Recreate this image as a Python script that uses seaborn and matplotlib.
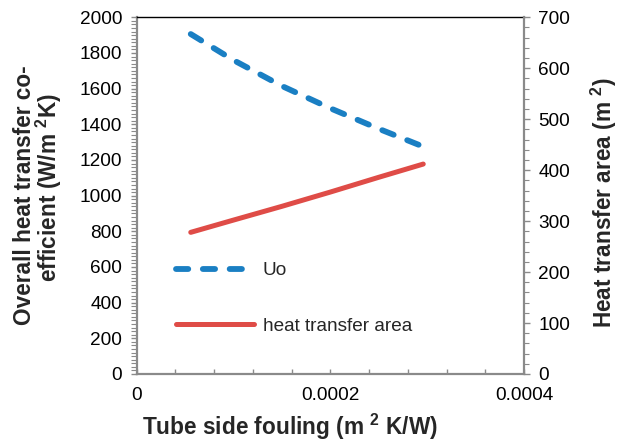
import matplotlib
matplotlib.use("Agg")
import matplotlib.pyplot as plt
import numpy as np
import pandas as pd
import seaborn as sns
from matplotlib.ticker import MultipleLocator

# ---- data ----
fouling = [0.000056, 0.0001, 0.00015, 0.0002, 0.00025, 0.000296]
uo = [1906, 1760, 1615, 1490, 1375, 1275]
area = [278, 302, 329, 357, 386, 412]

x_ticks = [0, 0.0002, 0.0004]
x_tick_labels = ["0", "0.0002", "0.0004"]
left_ticks = [0, 200, 400, 600, 800, 1000, 1200, 1400, 1600, 1800, 2000]
right_ticks = [0, 100, 200, 300, 400, 500, 600, 700]

series_labels = ["Uo", "heat transfer area"]

BLUE = "#1a7fc3"
RED = "#df4c47"
GRAY = "#8a8a8a"

sns.set_theme(style="white")
plt.rcParams["font.family"] = ["Liberation Sans", "DejaVu Sans"]
plt.rcParams["mathtext.fontset"] = "custom"
plt.rcParams["mathtext.rm"] = "Liberation Sans"
plt.rcParams["mathtext.bf"] = "Liberation Sans:bold"
plt.rcParams["mathtext.it"] = "Liberation Sans:italic"

W, H = 619, 443
fig = plt.figure(figsize=(W / 100, H / 100), dpi=100)
ax = fig.add_axes([136.5 / W, 69 / H, 387.5 / W, 356.7 / H])
ax2 = ax.twinx()

df = pd.DataFrame({"fouling": fouling, "uo": uo, "area": area})

sns.lineplot(data=df, x="fouling", y="uo", ax=ax, color=BLUE, linewidth=4.2,
             legend=False, sort=False)
sns.lineplot(data=df, x="fouling", y="area", ax=ax2, color=RED, linewidth=3.6,
             legend=False, sort=False)

l1 = ax.lines[0]
l1.set_linestyle((0, (2.1, 2.5)))
l1.set_dash_capstyle("round")
l1.set_solid_capstyle("round")
l2 = ax2.lines[0]
l2.set_solid_capstyle("round")

ax.set_xlim(0, 0.0004)
ax.set_ylim(0, 2000)
ax2.set_ylim(0, 700)

ax.set_xticks(x_ticks, x_tick_labels)
ax.xaxis.set_minor_locator(MultipleLocator(0.00004))
ax.set_yticks(left_ticks)
ax.yaxis.set_minor_locator(MultipleLocator(20))
ax2.set_yticks(right_ticks)
ax2.yaxis.set_minor_locator(MultipleLocator(20))

ax.set_xlabel("")
ax.set_ylabel("")
ax2.set_ylabel("")

# spines
for a in (ax, ax2):
    for s in a.spines.values():
        s.set_visible(False)
ax.spines["left"].set_visible(True)
ax.spines["bottom"].set_visible(True)
ax.spines["top"].set_visible(True)
ax2.spines["right"].set_visible(True)
for s in (ax.spines["left"], ax.spines["bottom"], ax2.spines["right"]):
    s.set_color(GRAY)
    s.set_linewidth(1.6)
ax.spines["top"].set_color("black")
ax.spines["top"].set_linewidth(1.0)

ax.tick_params(axis="x", which="both", direction="in", bottom=True, top=False,
               length=3.6, width=1.0, color=GRAY, labelsize=13.7, pad=9,
               labelcolor="black")
ax.tick_params(axis="y", which="major", direction="out", left=True, right=False,
               length=4.3, width=1.0, color=GRAY, labelsize=13.7, pad=6,
               labelcolor="black")
ax.tick_params(axis="y", which="minor", direction="out", left=True, right=False,
               length=4.0, width=0.8, color=GRAY)
ax2.tick_params(axis="y", which="major", direction="out", right=True, left=False,
                length=4.3, width=1.0, color=GRAY, labelsize=13.7, pad=6,
                labelcolor="black")
ax2.tick_params(axis="y", which="minor", direction="out", right=True, left=False,
                length=3.6, width=0.8, color=GRAY)
ax2.tick_params(axis="x", which="both", bottom=False, top=False)

# legend
fig.legend([l1, l2], series_labels, loc="upper left",
           bbox_to_anchor=(176 / W, 1 - 262 / H), frameon=False,
           borderpad=0, borderaxespad=0, fontsize=13.7, handlelength=4.1,
           handletextpad=0.45, labelspacing=2.0)

# axis titles
fs = 16.3
fig.text(30.7 / W, 1 - 195.5 / H, "Overall heat transfer co-", rotation=90,
         rotation_mode="anchor", ha="center", va="baseline", fontsize=fs,
         fontweight="bold")
fig.text(56.7 / W, 1 - 187 / H, r"efficient (W/m $^{\mathbf{2}}$K)", rotation=90,
         rotation_mode="anchor", ha="center", va="baseline", fontsize=fs,
         fontweight="bold")
fig.text(612 / W, 1 - 203 / H, r"Heat transfer area (m $^{\mathbf{2}}$)", rotation=90,
         rotation_mode="anchor", ha="center", va="baseline", fontsize=fs,
         fontweight="bold")
fig.text(290 / W, 1 - 435 / H, r"Tube side fouling (m $^{\mathbf{2}}$ K/W)",
         ha="center", va="baseline", fontsize=fs, fontweight="bold")

fig.savefig("out.png", dpi=100)
